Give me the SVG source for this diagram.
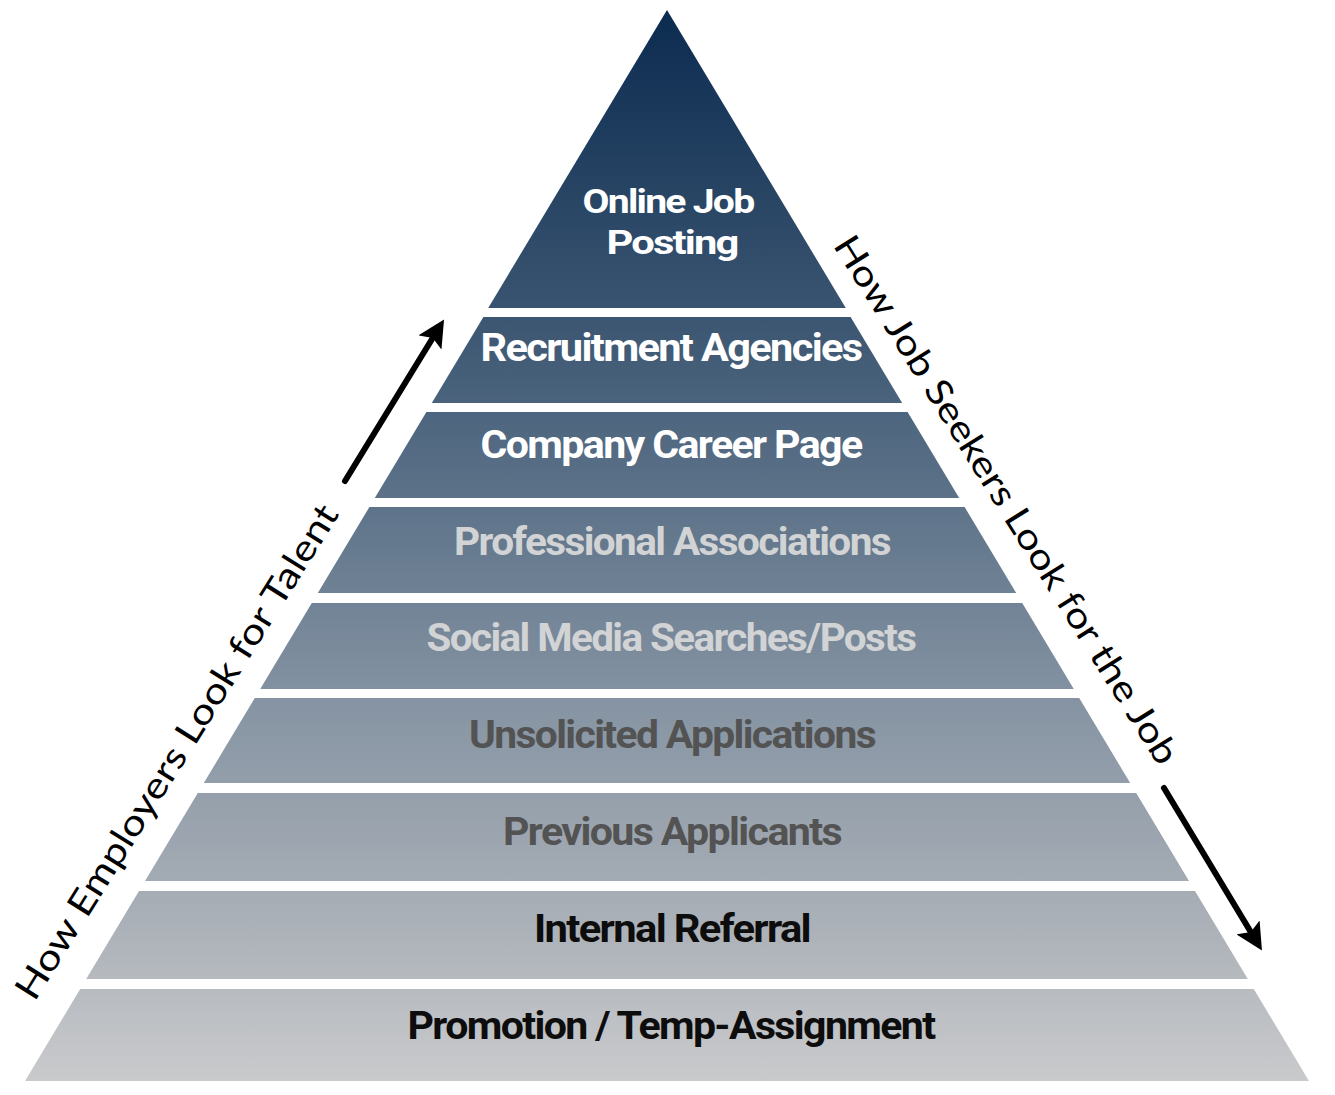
<svg xmlns="http://www.w3.org/2000/svg" width="1335" height="1095" viewBox="0 0 1335 1095">
<style>
.lbl{font-family:Roboto,"Liberation Sans",sans-serif;font-weight:700;font-size:38px;text-anchor:middle;letter-spacing:-1.5px}
.top{font-size:34px}
.w{fill:#ffffff}.lg{fill:#d2d3d4}.dg{fill:#535353}.bk{fill:#0d0d0d}
.side{font-family:Lato,"Open Sans",sans-serif;font-weight:400;font-size:36px;fill:#000;text-anchor:middle}
.arr{stroke:#000;stroke-width:6;fill:none;stroke-linecap:round}
</style>
<defs>
<linearGradient id="g" gradientUnits="userSpaceOnUse" x1="0" y1="10" x2="0" y2="1080">
<stop offset="0" stop-color="#0b2b50"/>
<stop offset="0.27" stop-color="#38536f"/>
<stop offset="0.45" stop-color="#5b7188"/>
<stop offset="0.65" stop-color="#8694a3"/>
<stop offset="0.85" stop-color="#aab0b7"/>
<stop offset="1" stop-color="#c9cacc"/>
</linearGradient>
<marker id="ah" viewBox="0 0 10 10" refX="5" refY="5" markerWidth="4.5" markerHeight="4.5" orient="auto" markerUnits="strokeWidth">
<path d="M0,0 L10,5 L0,10 L2,5 Z" fill="#000"/>
</marker>
</defs>
<rect width="1335" height="1095" fill="#fff"/>
<g id="layer1"><polygon points="667,10 845.8,308 488.2,308" fill="url(#g)"/>
<text class="lbl top w" x="668" y="213" textLength="171" lengthAdjust="spacingAndGlyphs">Online Job</text>
<text class="lbl top w" x="672" y="254" textLength="131" lengthAdjust="spacingAndGlyphs">Posting</text></g>
<g id="layer2"><polygon points="483.4,317 850.6,317 902.2,403 431.8,403" fill="url(#g)"/>
<text class="lbl w" x="671" y="361" textLength="381" lengthAdjust="spacingAndGlyphs">Recruitment Agencies</text></g>
<g id="layer3"><polygon points="426.4,412 907.6,412 959.2,498 374.8,498" fill="url(#g)"/>
<text class="lbl w" x="671" y="458" textLength="381" lengthAdjust="spacingAndGlyphs">Company Career Page</text></g>
<g id="layer4"><polygon points="369.4,507 964.6,507 1016.2,593 317.8,593" fill="url(#g)"/>
<text class="lbl lg" x="672" y="555" textLength="436" lengthAdjust="spacingAndGlyphs">Professional Associations</text></g>
<g id="layer5"><polygon points="311.8,603 1022.2,603 1073.8,689 260.2,689" fill="url(#g)"/>
<text class="lbl lg" x="671" y="651" textLength="489" lengthAdjust="spacingAndGlyphs">Social Media Searches/Posts</text></g>
<g id="layer6"><polygon points="254.8,698 1079.2,698 1130.2,783 203.8,783" fill="url(#g)"/>
<text class="lbl dg" x="672" y="748" textLength="406" lengthAdjust="spacingAndGlyphs">Unsolicited Applications</text></g>
<g id="layer7"><polygon points="197.8,793 1136.2,793 1189,881 145,881" fill="url(#g)"/>
<text class="lbl dg" x="672" y="845" textLength="338" lengthAdjust="spacingAndGlyphs">Previous Applicants</text></g>
<g id="layer8"><polygon points="139,891 1195,891 1247.8,979 86.2,979" fill="url(#g)"/>
<text class="lbl bk" x="672" y="942" textLength="276" lengthAdjust="spacingAndGlyphs">Internal Referral</text></g>
<g id="layer9"><polygon points="80.2,989 1253.8,989 1309,1081 25,1081" fill="url(#g)"/>
<text class="lbl bk" x="671" y="1039" textLength="527" lengthAdjust="spacingAndGlyphs">Promotion / Temp-Assignment</text></g>
<g id="label-employers"><text class="side" transform="translate(177,752) rotate(-58)" y="12" textLength="576" lengthAdjust="spacingAndGlyphs">How Employers Look for Talent</text></g>
<g id="label-seekers"><text class="side" transform="translate(1006,500) rotate(58)" y="12" textLength="616" lengthAdjust="spacingAndGlyphs">How Job Seekers Look for the Job</text></g>
<g id="connectors">
<line class="arr" x1="345" y1="481" x2="437" y2="331" marker-end="url(#ah)"/>
<line class="arr" x1="1164" y1="788" x2="1255" y2="939" marker-end="url(#ah)"/>
</g>
</svg>
